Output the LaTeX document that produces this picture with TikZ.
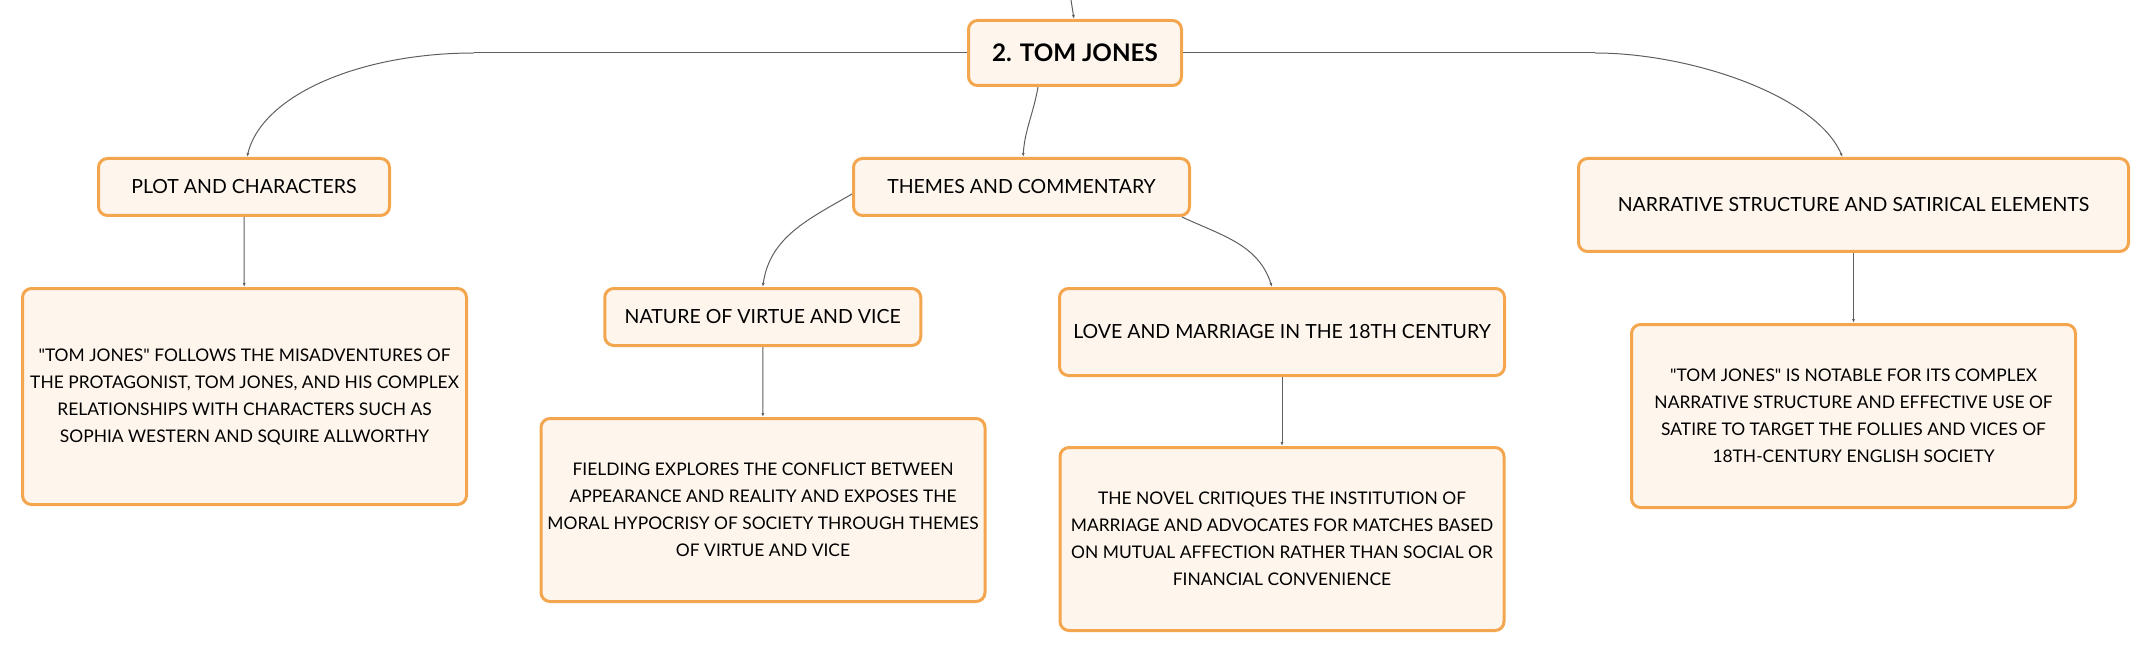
\documentclass[tikz,border=0pt]{standalone}
\usepackage{fontspec}
\setmainfont{Lato}
\usetikzlibrary{positioning}
\usetikzlibrary{arrows.meta}
\definecolor{boxline}{HTML}{F4A64E}
\definecolor{boxfill}{HTML}{FEF5EC}
\definecolor{linkgray}{HTML}{5F5F5F}
\tikzset{topic/.style={draw=boxline,fill=boxfill,line width=3pt,rounded corners=9pt,align=center,inner sep=0pt,font=\fontsize{19.5}{27}\selectfont},
desc/.style={topic,minimum width=444pt,font=\fontsize{17.4}{27}\selectfont},
link/.style={draw=linkgray,line width=1pt,-{Latex[length=4pt,width=3pt]}}}

\begin{document}
\begin{tikzpicture}[x=1pt,y=-1pt]
\useasboundingbox (0,0) rectangle (2151,652);
\node (tj) [topic, minimum width=213pt, minimum height=65pt, font=\fontsize{24.2}{28}\selectfont\bfseries] at (1075,53) {2. TOM JONES};
\node (plot) [topic, minimum width=291pt, minimum height=57pt] at (244,187) {PLOT AND CHARACTERS};
\node (them) [topic, minimum width=336pt, minimum height=57pt] at (1021.5,187) {THEMES AND COMMENTARY};
\node (narr) [topic, minimum width=550pt, minimum height=93pt] at (1853.5,205) {NARRATIVE STRUCTURE AND SATIRICAL ELEMENTS};
\node (virt) [topic, minimum width=316pt, minimum height=57pt] at (762.75,317) {NATURE OF VIRTUE AND VICE};
\node (love) [topic, minimum width=445pt, minimum height=87pt] at (1282,332) {LOVE AND MARRIAGE IN THE 18TH CENTURY};

\node (plotd) [desc, minimum height=216pt] at (244.5,396.5) {\textquotedbl TOM JONES\textquotedbl{} FOLLOWS THE MISADVENTURES OF\\THE PROTAGONIST, TOM JONES, AND HIS COMPLEX\\RELATIONSHIPS WITH CHARACTERS SUCH AS\\SOPHIA WESTERN AND SQUIRE ALLWORTHY};
\node (virtd) [desc, minimum height=183pt] at (763,510) {FIELDING EXPLORES THE CONFLICT BETWEEN\\APPEARANCE AND REALITY AND EXPOSES THE\\MORAL HYPOCRISY OF SOCIETY THROUGH THEMES\\OF VIRTUE AND VICE};
\node (loved) [desc, minimum height=183pt] at (1282,539) {THE NOVEL CRITIQUES THE INSTITUTION OF\\MARRIAGE AND ADVOCATES FOR MATCHES BASED\\ON MUTUAL AFFECTION RATHER THAN SOCIAL OR\\FINANCIAL CONVENIENCE};
\node (narrd) [desc, minimum height=183pt] at (1853.5,416) {\textquotedbl TOM JONES\textquotedbl{} IS NOTABLE FOR ITS COMPLEX\\NARRATIVE STRUCTURE AND EFFECTIVE USE OF\\SATIRE TO TARGET THE FOLLIES AND VICES OF\\18TH-CENTURY ENGLISH SOCIETY};

\coordinate (up) at (1071,0);
\draw[link] (up) -- ([xshift=-1pt]tj.north);
\draw[link,-] (tj.west) -- ++(-493,0) coordinate (lbend);
\draw[link] (lbend) .. controls +(-114,0) and +(15,-62) .. ([xshift=3pt]plot.north);
\draw[link,-] (tj.east) -- ++(412,0) coordinate (rbend);
\draw[link] (rbend) .. controls +(95,0) and +(-27,-62) .. ([xshift=-11pt]narr.north);
\draw[link] ([xshift=-37pt]tj.south) to[out=-100,in=86] ([xshift=1.5pt]them.north);
\draw[link] ([yshift=-7pt]them.west) to[out=210,in=82] (virt.north);
\draw[link] ([xshift=-9pt]them.south east) to[out=-25,in=108] ([xshift=-10pt]love.north);

\draw[link] (plot) -- (plotd);
\draw[link] (virt) -- (virtd);
\draw[link] (love) -- (loved);
\draw[link] (narr) -- (narrd);
\end{tikzpicture}
\end{document}
